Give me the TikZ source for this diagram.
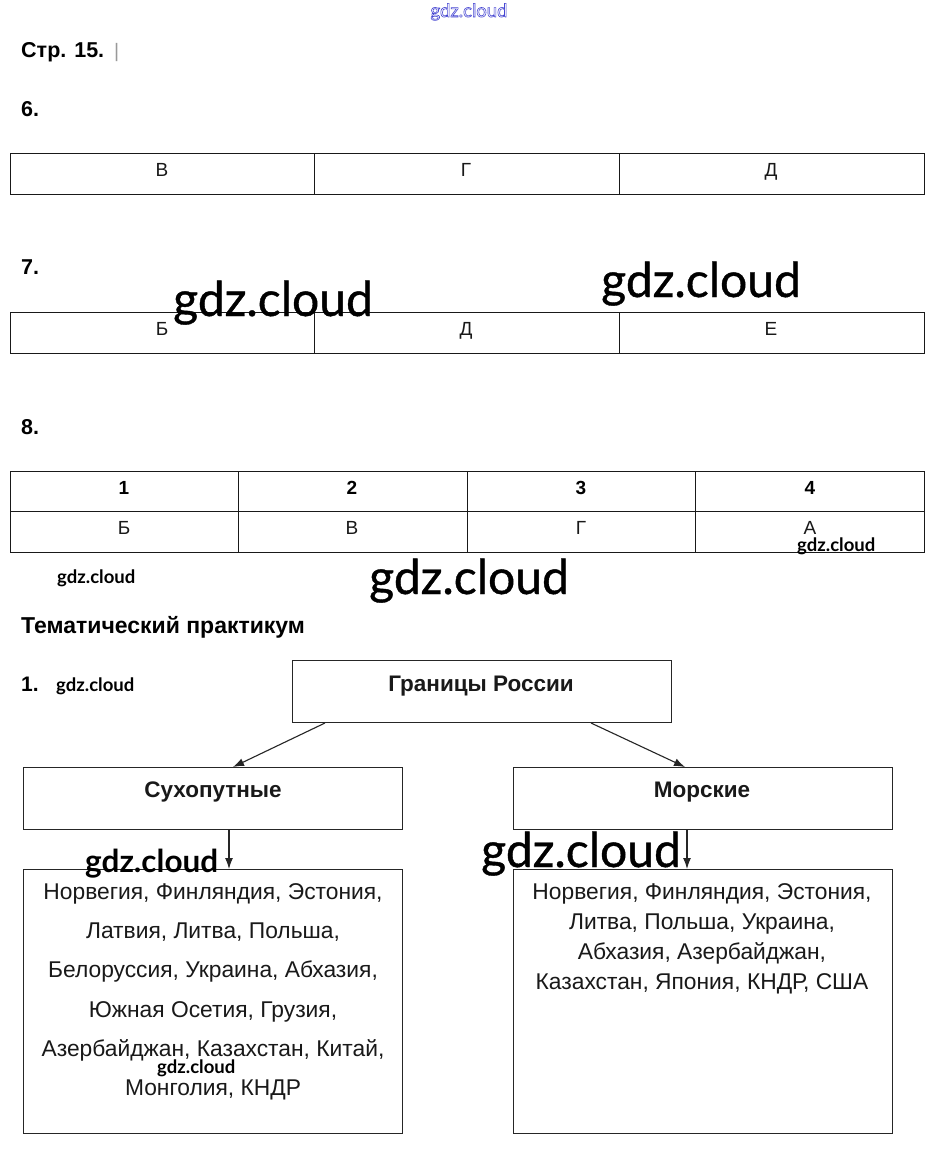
\documentclass[tikz,border=0pt]{standalone}
\usepackage{fontspec}
\setmainfont{Liberation Sans}
\newfontfamily\lato{Lato}
\newfontfamily\latob{Lato}[FakeBold=0.8]
\usetikzlibrary{arrows.meta,calc}
\definecolor{wmblue}{RGB}{70,70,210}
\tikzset{
  box/.style={draw=black!85, line width=1pt, minimum width=379pt, minimum height=62pt, inner sep=0pt, anchor=north west},
  tline/.style={draw=black!90, line width=0.9pt},
  lbl/.style={anchor=base, inner sep=0pt, font=\fontsize{19}{22}\selectfont, text=black!90},
  lblb/.style={anchor=base, inner sep=0pt, font=\bfseries\fontsize{19}{22}\selectfont},
  hd/.style={anchor=base west, inner sep=0pt, font=\bfseries\fontsize{21.5}{24}\selectfont},
  boxt/.style={anchor=base, inner sep=0pt, font=\bfseries\fontsize{22.5}{26}\selectfont, text=black!90},
  wmL/.style={anchor=base west, inner sep=0pt, font=\latob\fontsize{48}{50}\selectfont},
  wmM/.style={anchor=base west, inner sep=0pt, font=\lato\bfseries\fontsize{31.5}{33}\selectfont},
  wmS/.style={anchor=base west, inner sep=0pt, font=\lato\bfseries\fontsize{18.5}{20}\selectfont},
  ctry/.style={anchor=base, inner sep=0pt, font=\fontsize{22.8}{26}\selectfont, text=black!90},
  arr/.style={-{Latex[length=11pt,width=8pt]}, line width=1.1pt, draw=black!85},
}
\begin{document}
\begin{tikzpicture}[x=1pt,y=-1pt]
\useasboundingbox[fill=white] (0,0) rectangle (939,1156);

% header
\node[hd] (h0) at (21,57) {Стр. 15.};
\node[anchor=base west, inner sep=0pt, font=\fontsize{19.5}{22}\selectfont, text=black!40] (h0b) at (114,57) {|};
\node[hd] (h6) at (21,116) {6.};
\node[hd] (h7) at (21,274) {7.};
\node[hd] (h8) at (21,434) {8.};

% table 6
\draw[tline] (10,153) rectangle (924,194);
\draw[tline] (314,153) -- (314,194) (619,153) -- (619,194);
\node[lbl] (t6a) at (162,176) {В};
\node[lbl] (t6b) at (466,176) {Г};
\node[lbl] (t6c) at (771,176) {Д};

% table 7
\draw[tline] (10,312) rectangle (924,353);
\draw[tline] (314,312) -- (314,353) (619,312) -- (619,353);
\node[lbl] (t7a) at (162,335) {Б};
\node[lbl] (t7b) at (466,335) {Д};
\node[lbl] (t7c) at (771,335) {Е};

% table 8
\draw[tline] (10,471) rectangle (924,552);
\draw[tline] (10,511) -- (924,511);
\draw[tline] (238,471) -- (238,552) (467,471) -- (467,552) (695,471) -- (695,552);
\node[lblb] (n1) at (124,494) {1};
\node[lblb] (n2) at (352,494) {2};
\node[lblb] (n3) at (581,494) {3};
\node[lblb] (n4) at (810,494) {4};
\node[lbl] (a1) at (124,534) {Б};
\node[lbl] (a2) at (352,534) {В};
\node[lbl] (a3) at (581,534) {Г};
\node[lbl] (a4) at (810,534) {А};

% thematic
\node[anchor=base west, inner sep=0pt, font=\bfseries\fontsize{23}{26}\selectfont] (tp) at (21,633) {Тематический практикум};
\node[anchor=base west, inner sep=0pt, font=\bfseries\fontsize{21}{24}\selectfont] (q1) at (21,691) {1.};

% diagram boxes
\node[box] (g) at (292,660) {};
\node[boxt] (gt) at (481,691) {Границы России};
\node[box] (s) at (23,767) {};
\node[boxt] (st) at (213,797) {Сухопутные};
\node[box] (m) at (513,767) {};
\node[boxt] (mt) at (702,797) {Морские};
\node[box, minimum height=264pt] (sl) at (23,869) {};
\node[box, minimum height=264pt] (ml) at (513,869) {};

\draw[arr] ([xshift=33pt]g.south west) -- ([xshift=210pt]s.north west);
\draw[arr] ([xshift=299pt]g.south west) -- ([xshift=172pt]m.north west);
\draw[arr] ([xshift=206pt]s.south west) -- ([xshift=206pt]sl.north west);
\draw[arr] ([xshift=174pt]m.south west) -- ([xshift=174pt]ml.north west);

% land list
\node[ctry] (l1) at (213,899) {Норвегия, Финляндия, Эстония,};
\node[ctry] (l2) at (213,938) {Латвия, Литва, Польша,};
\node[ctry] (l3) at (213,977) {Белоруссия, Украина, Абхазия,};
\node[ctry] (l4) at (213,1017) {Южная Осетия, Грузия,};
\node[ctry] (l5) at (213,1056) {Азербайджан, Казахстан, Китай,};
\node[ctry] (l6) at (213,1095) {Монголия, КНДР};

% sea list
\node[ctry] (r1) at (702,899) {Норвегия, Финляндия, Эстония,};
\node[ctry] (r2) at (702,929) {Литва, Польша, Украина,};
\node[ctry] (r3) at (702,959) {Абхазия, Азербайджан,};
\node[ctry] (r4) at (702,989) {Казахстан, Япония, КНДР, США};

% watermarks
\node[anchor=base, inner sep=0pt, font=\lato\fontsize{18.5}{20}\selectfont, text=wmblue] (w0) at (469,17) {\special{pdf:literal direct 1 Tr 0.6 w}gdz.cloud\special{pdf:literal direct 0 Tr}};
\node[wmL] (w1) at (173,316) {gdz.cloud};
\node[wmL] (w2) at (601,297) {gdz.cloud};
\node[wmL] (w3) at (369,594) {gdz.cloud};
\node[wmL] (w4) at (481,867) {gdz.cloud};
\node[wmM] (w5) at (85,872) {gdz.cloud};
\node[wmS] (w6) at (797,551) {gdz.cloud};
\node[wmS] (w7) at (57,583) {gdz.cloud};
\node[wmS] (w8) at (56,691) {gdz.cloud};
\node[wmS] (w9) at (157,1073) {gdz.cloud};
\end{tikzpicture}
\end{document}
